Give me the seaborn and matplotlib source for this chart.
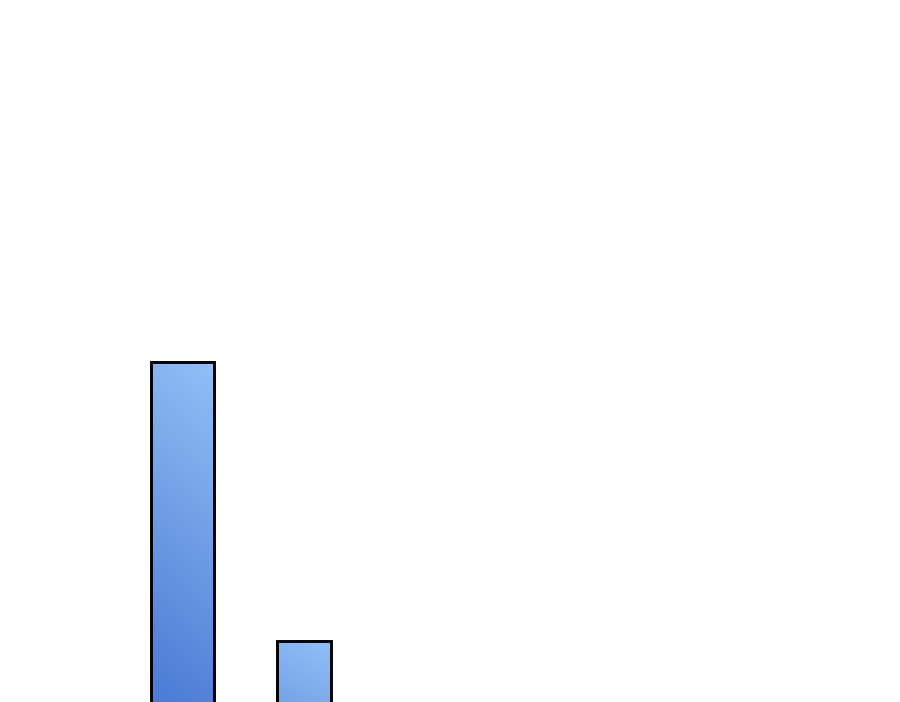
import numpy as np
import pandas as pd
import matplotlib
matplotlib.use("Agg")
import matplotlib.pyplot as plt
from matplotlib.colors import LinearSegmentedColormap
import seaborn as sns

categories = ["A", "B"]
values = [100, 56.3]

df = pd.DataFrame({"category": categories, "value": values})

sns.set_style("white")
fig = plt.figure(figsize=(9, 7.02), dpi=100)
ax = fig.add_axes([0, 0, 1, 1])

sns.barplot(data=df, x="category", y="value", ax=ax, color="#6f9fe6",
            edgecolor="black", linewidth=2.1)

# bar widths differ a bit in the picture
widths = [0.519, 0.444]
for patch, w in zip(ax.patches, widths):
    cx = patch.get_x() + patch.get_width() / 2
    patch.set_width(w)
    patch.set_x(cx - w / 2)

ax.set_axis_off()

# gradient fill: light at top right, darker at bottom left
cmap = LinearSegmentedColormap.from_list(
    "bluegrad", [(0.0, "#2f5fbf"), (0.47, "#4f7fd6"), (1.0, "#92bff6")])
yy, xx = np.mgrid[0:1:300j, 0:1:50j]
grad = 0.92 * yy + 0.08 * xx
for patch in ax.patches:
    x0, y0 = patch.get_x(), patch.get_y()
    w, h = patch.get_width(), patch.get_height()
    im = ax.imshow(grad, cmap=cmap, origin="lower", aspect="auto",
                   extent=[x0, x0 + w, y0, y0 + h], zorder=patch.get_zorder() + 0.1,
                   interpolation="bilinear")
    im.set_clip_path(patch)
    patch.set_facecolor("none")
    patch.set_zorder(patch.get_zorder() + 0.2)

ax.set_xlim(-1.502, 5.905)
ax.set_ylim(46.71, 156.74)

fig.savefig("out.png", dpi=100, facecolor="white")
